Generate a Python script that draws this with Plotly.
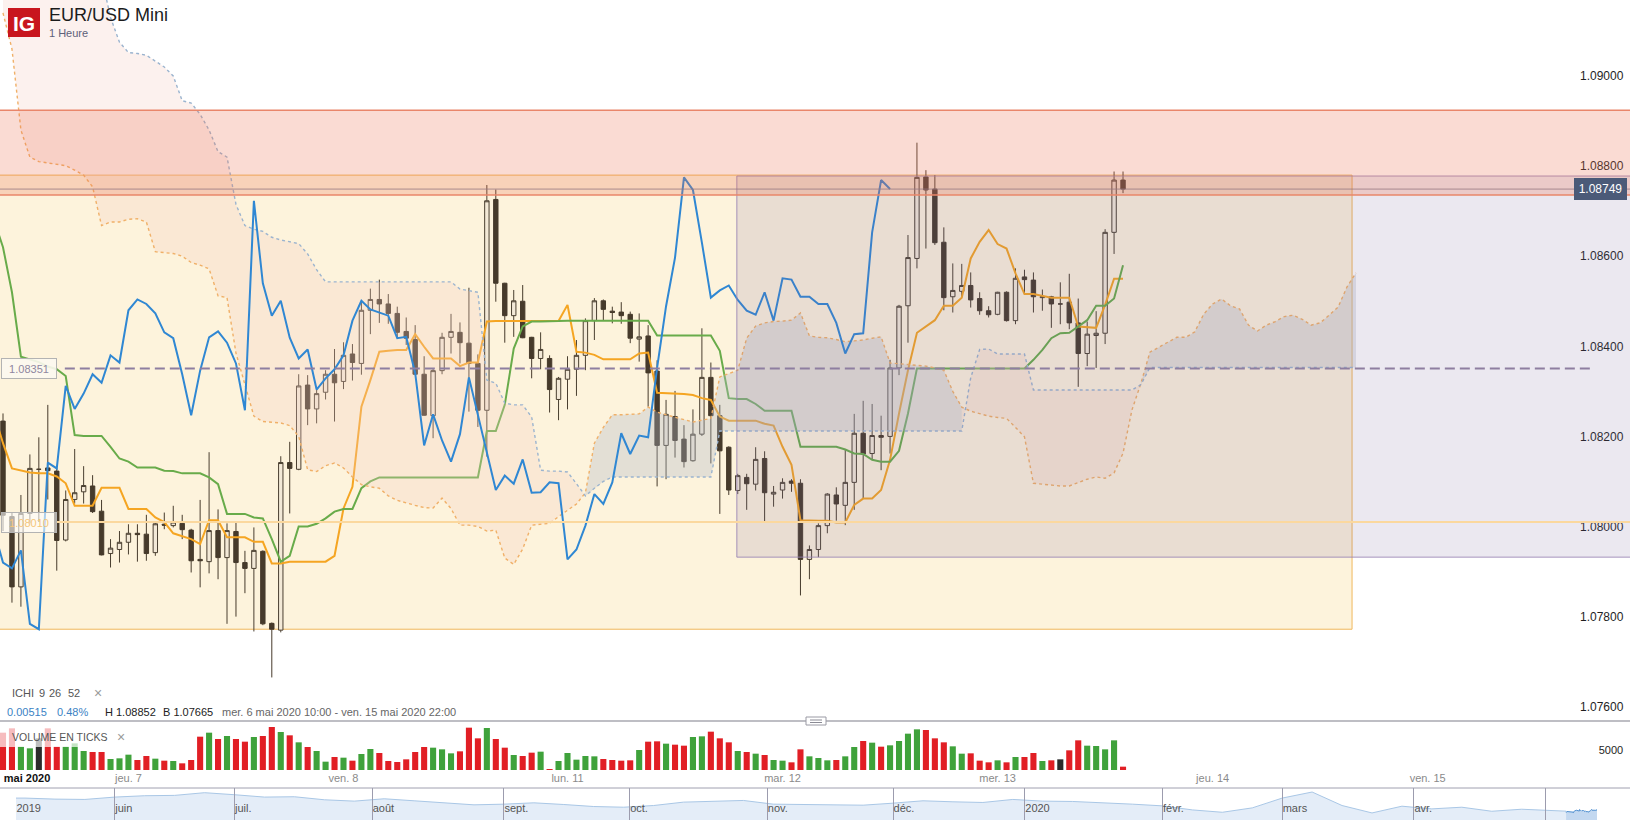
import plotly.graph_objects as go
from datetime import datetime, timedelta

FIG_W, FIG_H = 1630, 820
FONT = "Liberation Sans, Arial, sans-serif"

# ---------------- candles (hourly, mer. 6 mai 2020 10:00 -> mer. 13 mai 14:00) ----------------
opens = [1.08234, 1.08022, 1.07866, 1.08029, 1.08127, 1.08130, 1.08123, 1.07970, 1.08060, 1.08077,
         1.08090, 1.08034, 1.07940, 1.07949, 1.07965, 1.07985, 1.07983, 1.07942, 1.08005, 1.08002,
         1.08007, 1.07992, 1.07927, 1.07922, 1.07991, 1.07931, 1.07989, 1.07920, 1.07907, 1.07945,
         1.07785, 1.07770, 1.08142, 1.08127, 1.08314, 1.08261, 1.08298, 1.08338, 1.08322, 1.08383,
         1.08362, 1.08480, 1.08504, 1.08494, 1.08473, 1.08433, 1.08415, 1.08338, 1.08246, 1.08346,
         1.08420, 1.08431, 1.08407, 1.08362, 1.08258, 1.08726, 1.08540, 1.08468, 1.08500, 1.08420,
         1.08373, 1.08373, 1.08282, 1.08327, 1.08349, 1.08380, 1.08457, 1.08501, 1.08478, 1.08476,
         1.08471, 1.08416, 1.08423, 1.08345, 1.08180, 1.08244, 1.08194, 1.08146, 1.08205, 1.08331,
         1.08246, 1.08176, 1.08080, 1.08109, 1.08094, 1.08151, 1.08072, 1.08081, 1.08101, 1.08096,
         1.07927, 1.07949, 1.08002, 1.08070, 1.08047, 1.08098, 1.08207, 1.08162, 1.08202, 1.08200,
         1.08352, 1.08490, 1.08595, 1.08776, 1.08749, 1.08631, 1.08510, 1.08522, 1.08535, 1.08506,
         1.08479, 1.08471, 1.08520, 1.08457, 1.08554, 1.08547, 1.08508, 1.08510, 1.08494, 1.08498,
         1.08452, 1.08384, 1.08424, 1.08429, 1.08653, 1.08769]
highs = [1.08251, 1.08030, 1.08070, 1.08160, 1.08198, 1.08270, 1.08131, 1.08080, 1.08172, 1.08134,
         1.08114, 1.08059, 1.07972, 1.07990, 1.08005, 1.08005, 1.08026, 1.08009, 1.08031, 1.08046,
         1.08026, 1.07995, 1.08059, 1.08165, 1.08038, 1.08007, 1.08011, 1.07946, 1.07998, 1.07947,
         1.07787, 1.08156, 1.08188, 1.08338, 1.08336, 1.08306, 1.08347, 1.08394, 1.08409, 1.08405,
         1.08501, 1.08528, 1.08548, 1.08516, 1.08488, 1.08464, 1.08447, 1.08378, 1.08351, 1.08430,
         1.08472, 1.08453, 1.08530, 1.08382, 1.08758, 1.08748, 1.08541, 1.08525, 1.08536, 1.08421,
         1.08431, 1.08380, 1.08332, 1.08378, 1.08414, 1.08462, 1.08507, 1.08504, 1.08488, 1.08498,
         1.08477, 1.08473, 1.08447, 1.08369, 1.08281, 1.08301, 1.08225, 1.08260, 1.08440, 1.08364,
         1.08270, 1.08178, 1.08117, 1.08117, 1.08176, 1.08167, 1.08090, 1.08107, 1.08105, 1.08105,
         1.07958, 1.08007, 1.08074, 1.08087, 1.08170, 1.08250, 1.08279, 1.08272, 1.08246, 1.08370,
         1.08492, 1.08647, 1.08852, 1.08791, 1.08780, 1.08664, 1.08584, 1.08583, 1.08564, 1.08520,
         1.08489, 1.08521, 1.08522, 1.08573, 1.08570, 1.08564, 1.08526, 1.08512, 1.08542, 1.08561,
         1.08506, 1.08455, 1.08478, 1.08660, 1.08788, 1.08788]
lows = [1.07990, 1.07831, 1.07822, 1.08007, 1.08010, 1.08060, 1.07902, 1.07967, 1.08051, 1.08051,
        1.08030, 1.07936, 1.07909, 1.07920, 1.07938, 1.07922, 1.07924, 1.07935, 1.07994, 1.07998,
        1.07972, 1.07898, 1.07865, 1.07896, 1.07883, 1.07784, 1.07800, 1.07852, 1.07767, 1.07781,
        1.07665, 1.07765, 1.08029, 1.08125, 1.08225, 1.08229, 1.08282, 1.08233, 1.08305, 1.08324,
        1.08337, 1.08427, 1.08452, 1.08450, 1.08418, 1.08403, 1.08336, 1.08246, 1.08196, 1.08338,
        1.08384, 1.08362, 1.08255, 1.08221, 1.08155, 1.08499, 1.08408, 1.08421, 1.08418, 1.08329,
        1.08349, 1.08253, 1.08236, 1.08260, 1.08290, 1.08347, 1.08414, 1.08457, 1.08451, 1.08450,
        1.08407, 1.08366, 1.08266, 1.08089, 1.08105, 1.08153, 1.08131, 1.08144, 1.08201, 1.08140,
        1.08028, 1.08070, 1.08072, 1.08037, 1.08080, 1.08010, 1.08044, 1.08062, 1.08077, 1.07847,
        1.07883, 1.07932, 1.07985, 1.08013, 1.08003, 1.08037, 1.08063, 1.08148, 1.08125, 1.08162,
        1.08336, 1.08408, 1.08573, 1.08617, 1.08625, 1.08480, 1.08475, 1.08510, 1.08486, 1.08470,
        1.08464, 1.08469, 1.08455, 1.08449, 1.08518, 1.08475, 1.08479, 1.08441, 1.08449, 1.08438,
        1.08310, 1.08356, 1.08352, 1.08405, 1.08605, 1.08740]
closes = [1.08025, 1.07866, 1.08029, 1.08129, 1.08127, 1.08124, 1.07969, 1.08060, 1.08075, 1.08091,
          1.08033, 1.07937, 1.07952, 1.07965, 1.07985, 1.07982, 1.07940, 1.08006, 1.08003, 1.08010,
          1.07993, 1.07924, 1.07924, 1.07991, 1.07931, 1.07991, 1.07920, 1.07907, 1.07947, 1.07784,
          1.07772, 1.08142, 1.08129, 1.08312, 1.08261, 1.08295, 1.08338, 1.08319, 1.08380, 1.08364,
          1.08480, 1.08504, 1.08494, 1.08473, 1.08431, 1.08418, 1.08338, 1.08247, 1.08346, 1.08420,
          1.08433, 1.08408, 1.08362, 1.08258, 1.08723, 1.08540, 1.08468, 1.08501, 1.08419, 1.08373,
          1.08393, 1.08304, 1.08329, 1.08349, 1.08380, 1.08457, 1.08501, 1.08482, 1.08475, 1.08468,
          1.08418, 1.08421, 1.08341, 1.08180, 1.08249, 1.08191, 1.08144, 1.08205, 1.08331, 1.08246,
          1.08168, 1.08081, 1.08113, 1.08095, 1.08149, 1.08075, 1.08076, 1.08098, 1.08096, 1.07927,
          1.07949, 1.08002, 1.08072, 1.08050, 1.08098, 1.08207, 1.08161, 1.08202, 1.08198, 1.08352,
          1.08489, 1.08597, 1.08775, 1.08747, 1.08630, 1.08508, 1.08524, 1.08535, 1.08503, 1.08479,
          1.08470, 1.08520, 1.08457, 1.08551, 1.08548, 1.08510, 1.08510, 1.08494, 1.08494, 1.08452,
          1.08384, 1.08427, 1.08429, 1.08653, 1.08769, 1.08749]
volumes = [9333, 10417, 5833, 5417, 7917, 10417, 5833, 5833, 6667, 4750,
           4500, 4500, 2750, 2917, 3833, 2500, 3500, 2833, 2333, 2250,
           1667, 2500, 8333, 9333, 7750, 8500, 7750, 7083, 8250, 8500,
           10750, 9500, 8667, 6917, 5750, 4750, 2083, 3250, 3083, 2333,
           4000, 5250, 4250, 2250, 2000, 2667, 4500, 5750, 5583, 5167,
           4167, 4667, 10583, 7917, 10500, 7750, 5583, 3750, 3500, 4333,
           4583, 250, 2250, 4250, 2583, 3500, 3417, 2750, 2500, 2333,
           2417, 5000, 7083, 7167, 6583, 6333, 6083, 8250, 8417, 9583,
           7917, 6917, 4750, 4500, 4083, 3750, 2500, 2333, 1917, 5167,
           3417, 3000, 2417, 2500, 3417, 5750, 7250, 6833, 5833, 6167,
           7250, 9083, 10167, 10000, 7917, 6917, 5917, 4083, 4167, 2333,
           1917, 2417, 1917, 3250, 3250, 4250, 2250, 2417, 2667, 4917,
           7417, 6083, 6000, 5167, 7417, 833]

# ---------------- Ichimoku ----------------
# tenkan / kijun start one bar left of the first candle (index -1)
tenkan = [1.08250,
          1.08185, 1.08129, 1.08124, 1.08120, 1.08118, 1.08118, 1.08111, 1.08096, 1.08046, 1.08046,
          1.08046, 1.08086, 1.08086, 1.08086, 1.08039, 1.08039, 1.08039, 1.08020, 1.08010, 1.07985,
          1.07978, 1.07972, 1.07961, 1.08014, 1.08014, 1.07976, 1.07976, 1.07976, 1.07966, 1.07966,
          1.07918, 1.07918, 1.07922, 1.07922, 1.07922, 1.07922, 1.07922, 1.07935, 1.08040, 1.08088,
          1.08266, 1.08325, 1.08388, 1.08390, 1.08392, 1.08392, 1.08427, 1.08399, 1.08373, 1.08373,
          1.08373, 1.08356, 1.08364, 1.08364, 1.08455, 1.08456, 1.08456, 1.08456, 1.08456, 1.08456,
          1.08456, 1.08456, 1.08456, 1.08492, 1.08388, 1.08386, 1.08381, 1.08371, 1.08371, 1.08371,
          1.08371, 1.08384, 1.08386, 1.08297, 1.08296, 1.08296, 1.08294, 1.08292, 1.08285, 1.08281,
          1.08244, 1.08235, 1.08235, 1.08235, 1.08235, 1.08228, 1.08224, 1.08177, 1.08137, 1.08014,
          1.08013, 1.08013, 1.08013, 1.08009, 1.08009, 1.08048, 1.08062, 1.08062, 1.08081, 1.08148,
          1.08251, 1.08347, 1.08430, 1.08444, 1.08458, 1.08490, 1.08490, 1.08508, 1.08595, 1.08632,
          1.08658, 1.08627, 1.08617, 1.08562, 1.08516, 1.08516, 1.08512, 1.08508, 1.08508, 1.08508,
          1.08444, 1.08443, 1.08441, 1.08492, 1.08550, 1.08550]
kijun = [1.08680,
         1.08620, 1.08520, 1.08377, 1.08371, 1.08365, 1.08355, 1.08349, 1.08334, 1.08203, 1.08201,
         1.08201, 1.08201, 1.08177, 1.08151, 1.08144, 1.08131, 1.08131, 1.08131, 1.08124, 1.08123,
         1.08118, 1.08118, 1.08118, 1.08109, 1.08094, 1.08028, 1.08028, 1.08028, 1.08020, 1.08018,
         1.07972, 1.07922, 1.07935, 1.08000, 1.08000, 1.08006, 1.08018, 1.08033, 1.08039, 1.08039,
         1.08085, 1.08100, 1.08109, 1.08109, 1.08109, 1.08109, 1.08109, 1.08109, 1.08109, 1.08109,
         1.08109, 1.08109, 1.08109, 1.08109, 1.08212, 1.08212, 1.08270, 1.08395, 1.08444, 1.08455,
         1.08455, 1.08455, 1.08456, 1.08457, 1.08457, 1.08457, 1.08457, 1.08457, 1.08457, 1.08457,
         1.08457, 1.08457, 1.08457, 1.08424, 1.08424, 1.08424, 1.08424, 1.08424, 1.08424, 1.08424,
         1.08390, 1.08285, 1.08283, 1.08283, 1.08272, 1.08257, 1.08257, 1.08257, 1.08257, 1.08177,
         1.08177, 1.08177, 1.08177, 1.08177, 1.08171, 1.08162, 1.08161, 1.08148, 1.08144, 1.08144,
         1.08168, 1.08251, 1.08351, 1.08351, 1.08351, 1.08351, 1.08351, 1.08351, 1.08351, 1.08351,
         1.08351, 1.08351, 1.08351, 1.08351, 1.08351, 1.08370, 1.08392, 1.08418, 1.08429, 1.08430,
         1.08444, 1.08458, 1.08490, 1.08490, 1.08506, 1.08580]
# senkou spans, index 0..151 (projected 26 bars ahead)
senkou_a = [1.09140, 1.09060, 1.08880, 1.08820, 1.08810, 1.08807, 1.08805, 1.08801, 1.08791, 1.08780,
            1.08754, 1.08668, 1.08676, 1.08676, 1.08682, 1.08683, 1.08676, 1.08610, 1.08608, 1.08606,
            1.08600, 1.08586, 1.08580, 1.08572, 1.08512, 1.08508, 1.08385, 1.08312, 1.08245, 1.08233,
            1.08232, 1.08230, 1.08224, 1.08200, 1.08126, 1.08122, 1.08135, 1.08141, 1.08130, 1.08110,
            1.08093, 1.08088, 1.08085, 1.08068, 1.08058, 1.08052, 1.08047, 1.08042, 1.08041, 1.08063,
            1.08040, 1.08003, 1.08003, 1.08000, 1.07990, 1.07992, 1.07930, 1.07916, 1.07950, 1.08003,
            1.08005, 1.08007, 1.08022, 1.08037, 1.08050, 1.08075, 1.08185, 1.08220, 1.08248, 1.08248,
            1.08249, 1.08250, 1.08265, 1.08254, 1.08248, 1.08243, 1.08238, 1.08232, 1.08236, 1.08240,
            1.08332, 1.08340, 1.08347, 1.08418, 1.08445, 1.08452, 1.08455, 1.08456, 1.08458, 1.08474,
            1.08423, 1.08420, 1.08419, 1.08415, 1.08410, 1.08412, 1.08414, 1.08418, 1.08421, 1.08363,
            1.08361, 1.08359, 1.08357, 1.08356, 1.08352, 1.08347, 1.08300, 1.08265, 1.08256, 1.08250,
            1.08245, 1.08242, 1.08240, 1.08220, 1.08199, 1.08096, 1.08094, 1.08092, 1.08090, 1.08090,
            1.08097, 1.08105, 1.08110, 1.08107, 1.08119, 1.08163, 1.08259, 1.08318, 1.08387, 1.08398,
            1.08409, 1.08420, 1.08420, 1.08432, 1.08471, 1.08494, 1.08505, 1.08490, 1.08483, 1.08447,
            1.08434, 1.08447, 1.08455, 1.08466, 1.08469, 1.08460, 1.08447, 1.08452, 1.08469, 1.08487,
            1.08532, 1.08563]
senkou_b = [1.09300, 1.09300, 1.09300, 1.09300, 1.09300, 1.09300, 1.09300, 1.09300, 1.09300, 1.09300,
            1.09300, 1.09220, 1.09130, 1.09075, 1.09052, 1.09050, 1.09046, 1.09033, 1.09020, 1.09000,
            1.08945, 1.08940, 1.08915, 1.08880, 1.08832, 1.08820, 1.08715, 1.08668, 1.08660, 1.08655,
            1.08642, 1.08636, 1.08632, 1.08628, 1.08605, 1.08570, 1.08543, 1.08543, 1.08543, 1.08543,
            1.08543, 1.08543, 1.08543, 1.08543, 1.08543, 1.08543, 1.08543, 1.08543, 1.08543, 1.08543,
            1.08543, 1.08527, 1.08523, 1.08520, 1.08325, 1.08318, 1.08274, 1.08270, 1.08270, 1.08243,
            1.08125, 1.08123, 1.08123, 1.08121, 1.08095, 1.08068, 1.08085, 1.08100, 1.08110, 1.08110,
            1.08110, 1.08110, 1.08110, 1.08110, 1.08110, 1.08110, 1.08110, 1.08110, 1.08110, 1.08110,
            1.08212, 1.08212, 1.08212, 1.08212, 1.08212, 1.08212, 1.08212, 1.08212, 1.08212, 1.08212,
            1.08212, 1.08212, 1.08212, 1.08212, 1.08212, 1.08212, 1.08212, 1.08212, 1.08212, 1.08212,
            1.08212, 1.08212, 1.08212, 1.08212, 1.08212, 1.08212, 1.08212, 1.08212, 1.08330, 1.08393,
            1.08394, 1.08383, 1.08383, 1.08383, 1.08383, 1.08303, 1.08303, 1.08303, 1.08303, 1.08303,
            1.08303, 1.08303, 1.08303, 1.08303, 1.08303, 1.08303, 1.08303, 1.08315, 1.08353, 1.08353,
            1.08353, 1.08353, 1.08353, 1.08353, 1.08353, 1.08353, 1.08353, 1.08353, 1.08353, 1.08353,
            1.08353, 1.08353, 1.08353, 1.08353, 1.08353, 1.08353, 1.08353, 1.08353, 1.08353, 1.08353,
            1.08353, 1.08353]
# cloud colour segments (start, end, bearish?) read at the span crossings
cloud_segments = [(0, 65, True), (65, 107, False), (107, 127, True), (127, 151, False)]
chikou_shift = 26

# ---------------- drawings ----------------
zone_top, zone_bottom = 1.08924, 1.08736
yellow_box = dict(x0=-1, x1=150.56, y0=1.07772, y1=1.08780)
grey_box = dict(x0=81.9, x1=200, y0=1.07932, y1=1.08778)
level_dashed = 1.08351
level_orange = 1.08010
last_price = 1.08749

# ---------------- axes / labels ----------------
price_ticks = [1.076, 1.078, 1.080, 1.082, 1.084, 1.086, 1.088, 1.090]
volume_ticks = [5000]
day_ticks = [2.68, 14, 38, 63, 87, 111, 135, 159]
day_labels = ['<b><span style="color:#111">mai 2020</span></b>', "jeu. 7", "ven. 8", "lun. 11",
              "mar. 12", "mer. 13", "jeu. 14", "ven. 15"]

# ---------------- navigator (one year, weekly) ----------------
nav_dates = ["2019-05-09 12:00", "2019-05-13", "2019-05-20", "2019-05-27", "2019-06-03", "2019-06-10",
             "2019-06-17", "2019-06-24", "2019-07-01", "2019-07-08", "2019-07-15", "2019-07-22",
             "2019-07-29", "2019-08-05", "2019-08-12", "2019-08-19", "2019-08-26", "2019-09-02",
             "2019-09-09", "2019-09-16", "2019-09-23", "2019-09-30", "2019-10-07", "2019-10-14",
             "2019-10-21", "2019-10-28", "2019-11-04", "2019-11-11", "2019-11-18", "2019-11-25",
             "2019-12-02", "2019-12-09", "2019-12-16", "2019-12-23", "2019-12-30", "2020-01-06",
             "2020-01-13", "2020-01-20", "2020-01-27", "2020-02-03", "2020-02-10", "2020-02-17",
             "2020-02-24", "2020-03-02", "2020-03-09", "2020-03-16", "2020-03-23", "2020-03-30",
             "2020-04-06", "2020-04-13", "2020-04-20", "2020-04-27", "2020-05-04", "2020-05-06 10:00"]
nav_values = [1.121, 1.121, 1.118, 1.117, 1.124, 1.128, 1.129, 1.137, 1.131, 1.124, 1.125, 1.116,
              1.112, 1.119, 1.113, 1.108, 1.101, 1.103, 1.107, 1.102, 1.096, 1.094, 1.099, 1.109,
              1.112, 1.114, 1.103, 1.102, 1.101, 1.100, 1.106, 1.113, 1.110, 1.108, 1.117, 1.112,
              1.111, 1.108, 1.103, 1.098, 1.086, 1.079, 1.092, 1.121, 1.139, 1.099, 1.077, 1.097,
              1.089, 1.094, 1.082, 1.088, 1.084, 1.0823]
month_ticks = ["2019-05-09 12:00", "2019-06-03", "2019-07-01", "2019-08-01", "2019-09-02", "2019-10-01",
               "2019-11-01", "2019-12-02", "2020-01-01", "2020-02-03", "2020-03-02", "2020-04-01",
               "2020-05-01"]
month_labels = ["2019", "juin", "juil.", "août", "sept.", "oct.", "nov.", "déc.", "2020", "févr.",
                "mars", "avr.", ""]

# ======================================================================
n = len(closes)
idx = list(range(n))
ext_idx = list(range(-1, n))
span_idx = list(range(len(senkou_a)))


def fx(p):
    return p / FIG_W


def fy(p):
    return 1 - p / FIG_H


# candle timestamps (for the navigator selection)
times = []
for i in range(n):
    if i <= 59:
        t = datetime(2020, 5, 6, 10) + timedelta(hours=i)
    elif i <= 62:
        t = datetime(2020, 5, 10, 21) + timedelta(hours=i - 60)
    else:
        t = datetime(2020, 5, 11, 0) + timedelta(hours=i - 63)
    times.append(t.strftime("%Y-%m-%d %H:%M"))

fig = go.Figure()

fig.add_trace(go.Candlestick(
    x=idx, open=opens, high=highs, low=lows, close=closes,
    increasing=dict(line=dict(color="#4a3f30", width=1), fillcolor="#f3e9d7"),
    decreasing=dict(line=dict(color="#463a2b", width=1), fillcolor="#463a2b"),
    whiskerwidth=0, xaxis="x", yaxis="y", hoverinfo="skip", name="EUR/USD"))

fig.add_trace(go.Scatter(x=ext_idx, y=tenkan, mode="lines", line=dict(color="#f5a522", width=2),
                         xaxis="x", yaxis="y", hoverinfo="skip"))
fig.add_trace(go.Scatter(x=ext_idx, y=kijun, mode="lines", line=dict(color="#68ab4a", width=2),
                         xaxis="x", yaxis="y", hoverinfo="skip"))

for s, e, bear in cloud_segments:
    xs = list(range(s, e + 1)) + list(range(e, s - 1, -1))
    ys = senkou_a[s:e + 1] + senkou_b[s:e + 1][::-1]
    fig.add_trace(go.Scatter(
        x=xs, y=ys, mode="lines", fill="toself", line=dict(width=0),
        fillcolor="rgba(246,204,195,0.28)" if bear else "rgba(176,185,198,0.34)",
        xaxis="x", yaxis="y", hoverinfo="skip"))

fig.add_trace(go.Scatter(x=span_idx, y=senkou_a, mode="lines",
                         line=dict(color="#f0b068", width=1.4, dash="dot"),
                         xaxis="x", yaxis="y", hoverinfo="skip"))
fig.add_trace(go.Scatter(x=span_idx, y=senkou_b, mode="lines",
                         line=dict(color="#9bb4cf", width=1.4, dash="dot"),
                         xaxis="x", yaxis="y", hoverinfo="skip"))

chik_x = [i - chikou_shift for i in range(chikou_shift - 1, n)]
chik_y = closes[chikou_shift - 1:]
fig.add_trace(go.Scatter(x=chik_x, y=chik_y, mode="lines", line=dict(color="#2f87d3", width=2),
                         xaxis="x", yaxis="y", hoverinfo="skip"))

vol_colors = []
for o, c in zip(opens, closes):
    if c > o:
        vol_colors.append("#3fa23b")
    elif c < o:
        vol_colors.append("#e11f25")
    else:
        vol_colors.append("#2b2b2b")
fig.add_trace(go.Bar(x=idx, y=volumes, marker=dict(color=vol_colors, line=dict(width=0)),
                     xaxis="x2", yaxis="y2", hoverinfo="skip"))

fig.add_trace(go.Scatter(x=nav_dates, y=nav_values, mode="lines", fill="tozeroy",
                         fillcolor="#e4edf8", line=dict(color="#a9c7e6", width=1),
                         xaxis="x3", yaxis="y3", hoverinfo="skip"))
fig.add_trace(go.Scatter(x=times, y=closes, mode="lines", fill="tozeroy",
                         fillcolor="#c3d8f0", line=dict(color="#4f8fd0", width=1),
                         xaxis="x3", yaxis="y3", hoverinfo="skip"))

shapes = [
    dict(type="rect", xref="x", yref="y", layer="below", fillcolor="#fdf3dc",
         line=dict(color="#f0b85c", width=1), **yellow_box),
    dict(type="rect", xref="x", yref="y", layer="above", fillcolor="rgba(122,102,155,0.15)",
         line=dict(color="rgba(150,130,180,0.85)", width=1), **grey_box),
    dict(type="rect", xref="x", yref="y", layer="above", x0=-5, x1=200, y0=zone_bottom, y1=zone_top,
         fillcolor="rgba(235,110,80,0.25)", line=dict(color="#e9866a", width=1.5)),
    dict(type="line", xref="x", yref="y", layer="above", x0=-5, x1=200, y0=last_price, y1=last_price,
         line=dict(color="rgba(150,120,130,0.8)", width=1)),
    dict(type="line", xref="x", yref="y", layer="above", x0=6.9, x1=177.5, y0=level_dashed,
         y1=level_dashed, line=dict(color="#8e7ea0", width=2, dash="10px,5px")),
    dict(type="line", xref="x", yref="y", layer="above", x0=6.0, x1=200, y0=level_orange,
         y1=level_orange, line=dict(color="#fbd89e", width=2)),
    # panel separators
    dict(type="line", xref="paper", yref="paper", x0=0, x1=1, y0=fy(721), y1=fy(721),
         line=dict(color="#a8a8b0", width=1.5)),
    dict(type="rect", xref="paper", yref="paper", x0=fx(806), x1=fx(826), y0=fy(725), y1=fy(717),
         fillcolor="white", line=dict(color="#9a9aa4", width=1)),
    dict(type="line", xref="paper", yref="paper", x0=fx(810), x1=fx(822), y0=fy(720), y1=fy(720),
         line=dict(color="#8a8a94", width=1)),
    dict(type="line", xref="paper", yref="paper", x0=fx(810), x1=fx(822), y0=fy(722.5), y1=fy(722.5),
         line=dict(color="#8a8a94", width=1)),
    dict(type="line", xref="paper", yref="paper", x0=0, x1=1, y0=fy(788), y1=fy(788),
         line=dict(color="#a0a0b0", width=1)),
    dict(type="rect", xref="paper", yref="paper", x0=0, x1=fx(126), y0=fy(747), y1=fy(728),
         fillcolor="rgba(255,255,255,0.7)", line=dict(width=0), layer="above"),
    # IG logo
    dict(type="rect", xref="paper", yref="paper", x0=fx(8), x1=fx(40), y0=fy(37), y1=fy(8),
         fillcolor="#c8161e", line=dict(width=0), layer="above"),
]


def txt(x, y, s, size=11, color="#555", anchor="left"):
    return dict(x=fx(x), y=fy(y), xref="paper", yref="paper", text=s, showarrow=False,
                xanchor=anchor, yanchor="middle", font=dict(size=size, color=color, family=FONT))


annotations = [
    txt(24, 23, "<b>IG</b>", 21, "white", "center"),
    txt(47, 15, "EUR/USD Mini", 18, "#1b1b1b"),
    txt(47, 33, "1 Heure", 11, "#5d6079"),
    txt(10, 693, "ICHI", 11, "#555"),
    txt(37, 693, "9", 11, "#555"),
    txt(47, 693, "26", 11, "#555"),
    txt(66, 693, "52", 11, "#555"),
    txt(92, 693, "×", 14, "#9a9a9a"),
    txt(5, 712, "0.00515", 11, "#3b82c4"),
    txt(55, 712, "0.48%", 11, "#3b82c4"),
    txt(103, 712, "H 1.08852", 11, "#222"),
    txt(161, 712, "B 1.07665", 11, "#222"),
    txt(220, 712, "mer. 6 mai 2020 10:00 - ven. 15 mai 2020 22:00", 11, "#666"),
    txt(10, 737, "VOLUME EN TICKS", 10.5, "#555"),
    txt(115, 737, "×", 14, "#9a9a9a"),
    dict(x=fx(1), y=level_dashed, xref="paper", yref="y", text="1.08351", showarrow=False,
         xanchor="left", yanchor="middle", font=dict(size=11, color="#8f86a0", family=FONT),
         bgcolor="rgba(252,248,240,0.9)", bordercolor="#b3b3b3", borderwidth=1, borderpad=3,
         width=48, height=13),
    dict(x=fx(1), y=level_orange, xref="paper", yref="y", text="1.08010", showarrow=False,
         xanchor="left", yanchor="middle", font=dict(size=11, color="#f5c67a", family=FONT),
         bgcolor="rgba(255,255,255,0.6)", bordercolor="#b3b3b3", borderwidth=1, borderpad=3,
         width=48, height=13),
    dict(x=fx(1627), y=last_price, xref="paper", yref="y", text="1.08749", showarrow=False,
         xanchor="right", yanchor="middle", font=dict(size=12, color="white", family=FONT),
         bgcolor="#4b5a78", bordercolor="#4b5a78", borderwidth=1, borderpad=3, width=45, height=14),
]

fig.update_layout(
    width=FIG_W, height=FIG_H, margin=dict(l=0, r=0, t=0, b=0),
    paper_bgcolor="white", plot_bgcolor="white", showlegend=False,
    font=dict(family=FONT, size=11, color="#222"),
    boxgap=0.3, bargap=0.32,
    xaxis=dict(domain=[0, 1], range=[-0.335, 181.58], anchor="y", showticklabels=False,
               showgrid=False, zeroline=False, showline=False, ticks="",
               rangeslider=dict(visible=False), fixedrange=True),
    yaxis=dict(domain=[fy(721), 1], range=[1.075683, 1.091687], anchor="x", side="right",
               tickvals=price_ticks, ticktext=[f"{v:.5f}" for v in price_ticks],
               ticklabelposition="inside", ticks="inside", ticklen=6,
               tickcolor="rgba(0,0,0,0)", showgrid=False, zeroline=False,
               showline=False, tickfont=dict(size=12, color="#1e1e1e")),
    xaxis2=dict(domain=[0, 1], matches="x", anchor="y2", tickvals=day_ticks, ticktext=day_labels,
                ticks="", showgrid=False, zeroline=False, showline=False,
                tickfont=dict(size=11, color="#8a8a8a")),
    yaxis2=dict(domain=[fy(770), fy(721)], range=[0, 12250], anchor="x2", side="right",
                tickvals=volume_ticks, ticktext=["5000"], ticklabelposition="inside",
                ticks="inside", ticklen=6, tickcolor="rgba(0,0,0,0)",
                showgrid=False, zeroline=False, showline=False,
                tickfont=dict(size=11, color="#1e1e1e")),
    xaxis3=dict(domain=[fx(16), fx(1597)], type="date", anchor="y3",
                range=["2019-05-09 12:00", "2020-05-13 14:00"],
                rangebreaks=[dict(bounds=["sat", "mon"])],
                tickvals=month_ticks, ticktext=month_labels, ticks="inside", ticklen=32,
                tickcolor="#9c9cae", tickwidth=1, ticklabelposition="inside right",
                showgrid=False, zeroline=False, showline=False,
                tickfont=dict(size=11, color="#555")),
    yaxis3=dict(domain=[0, fy(788)], range=[1.0561, 1.1509], anchor="x3", visible=False),
    shapes=shapes, annotations=annotations,
)

fig.write_html("out.html", include_plotlyjs=True, full_html=True,
               config={"displayModeBar": False},
               post_script="document.body.style.margin='0';document.body.style.overflow='hidden';")
